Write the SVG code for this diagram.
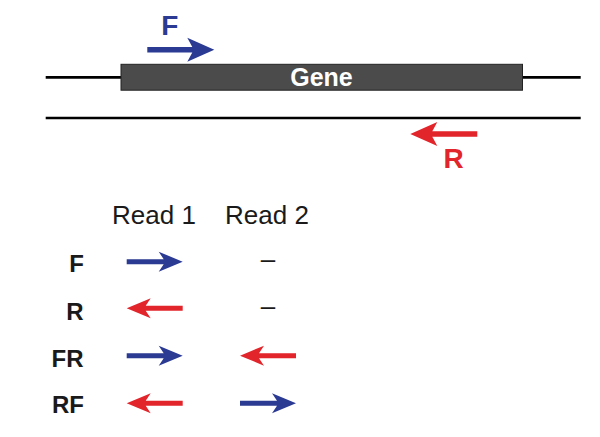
<svg xmlns="http://www.w3.org/2000/svg" xmlns:xlink="http://www.w3.org/1999/xlink" width="600" height="437" viewBox="0 0 600 437">
  <style>
    .strand { stroke: #000; stroke-width: 2.7; fill: none; }
    .blue { fill: #2B3A93; }
    .red { fill: #E2252B; }
    .bold { font-family: "Liberation Sans", Arial, sans-serif; font-weight: bold; }
    .reg { font-family: "Liberation Sans", Arial, sans-serif; font-weight: normal; fill: #1a1a1a; }
    .lbl { font-size: 24px; fill: #1a1a1a; text-anchor: end; }
  </style>
  <defs>
    <path id="arrowBig" d="M0,-2.75 H45 L40,-12 L67,0 L40,12 L45,2.75 H0 Z"/>
    <path id="arrowSmall" d="M0,-2.5 H37 L32,-10 L56,0 L32,10 L37,2.5 H0 Z"/>
  </defs>
  <rect width="600" height="437" fill="#fff"/>

  <g id="strands">
    <line class="strand" x1="45.7" y1="77.3" x2="580.7" y2="77.3"/>
    <line class="strand" x1="45.7" y1="118" x2="580.7" y2="118"/>
  </g>

  <g id="gene">
    <rect x="121" y="64.3" width="401.5" height="25.9" fill="#4B4B4B" stroke="#222" stroke-width="1"/>
    <text class="bold" x="321.5" y="86" font-size="25" fill="#fff" text-anchor="middle">Gene</text>
  </g>

  <g id="primer-F">
    <use xlink:href="#arrowBig" class="blue" transform="translate(147.3,49.8)"/>
    <text class="bold" x="161.3" y="35" font-size="28" fill="#2B3A93">F</text>
  </g>

  <g id="primer-R">
    <use xlink:href="#arrowBig" class="red" transform="translate(477.3,134) scale(-1,1)"/>
    <text class="bold" x="443.6" y="168.3" font-size="28" fill="#E2252B">R</text>
  </g>

  <g id="table-header">
    <text class="reg" x="112" y="224" font-size="26">Read 1</text>
    <text class="reg" x="225" y="224" font-size="26">Read 2</text>
  </g>

  <g id="row-F">
    <text class="bold lbl" x="84" y="272.3">F</text>
    <use xlink:href="#arrowSmall" class="blue" transform="translate(126.7,261.7)"/>
    <text class="reg" x="268" y="268.3" font-size="26" text-anchor="middle">–</text>
  </g>

  <g id="row-R">
    <text class="bold lbl" x="83.5" y="320">R</text>
    <use xlink:href="#arrowSmall" class="red" transform="translate(182.7,308.3) scale(-1,1)"/>
    <text class="reg" x="268" y="315" font-size="26" text-anchor="middle">–</text>
  </g>

  <g id="row-FR">
    <text class="bold lbl" x="83.5" y="366.7">FR</text>
    <use xlink:href="#arrowSmall" class="blue" transform="translate(126.7,355.7)"/>
    <use xlink:href="#arrowSmall" class="red" transform="translate(296,355.7) scale(-1,1)"/>
  </g>

  <g id="row-RF">
    <text class="bold lbl" x="84" y="412.7">RF</text>
    <use xlink:href="#arrowSmall" class="red" transform="translate(182.7,403.3) scale(-1,1)"/>
    <use xlink:href="#arrowSmall" class="blue" transform="translate(240,403.3)"/>
  </g>
</svg>
